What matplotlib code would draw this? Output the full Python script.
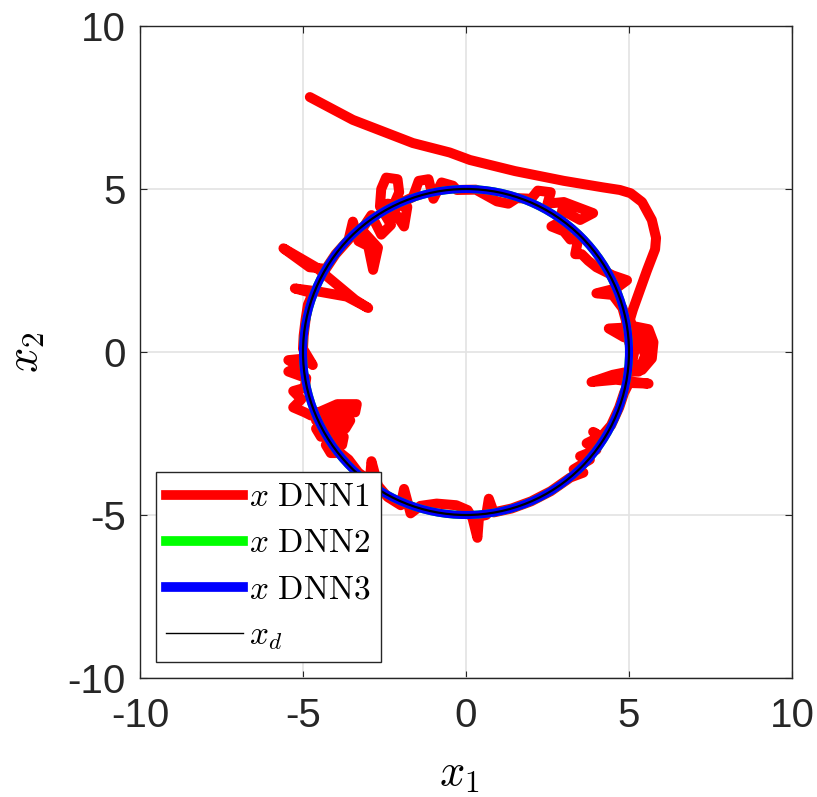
import matplotlib
matplotlib.use("Agg")
import matplotlib.pyplot as plt
from matplotlib.lines import Line2D
from matplotlib.patches import Circle

plt.rcParams['mathtext.fontset'] = 'cm'
plt.rcParams['font.family'] = ['Liberation Sans', 'DejaVu Sans']

# ---------------- data ----------------
xlim = [-10, 10]
ylim = [-10, 10]
ticks = [-10, -5, 0, 5, 10]
tick_labels = ['-10', '-5', '0', '5', '10']

# reference circle (x_d); DNN2 / DNN3 trajectories lie on it
xd_center = (0.0, 0.0)
xd_radius = 5.0

# DNN1 trajectory (x1, x2)
dnn1_pts = [
    # approach from the upper left
    (-4.79, 7.82), (-3.47, 7.12), (-2.43, 6.72), (-1.63, 6.41), (-0.5, 6.12), (0.12, 5.89),
    (1.5, 5.55), (3.0, 5.25), (4.2, 5.05), (4.72, 4.97), (5.05, 4.87), (5.4, 4.6), (5.7, 4.05),
    (5.83, 3.5), (5.8, 3.15), (5.55, 2.5), (5.3, 1.8), (5.12, 1.3), (5.03, 1.0),
    # right blob and spur
    (5.1, 0.8), (5.6, 0.7), (5.75, 0.3), (5.7, -0.2), (5.4, -0.55), (5.1, -0.3), (5.2, 0.2),
    (5.6, 0.1), (5.45, 0.55), (4.9, 0.75), (4.38, 0.72), (4.85, 0.45), (5.3, 0.4), (5.5, -0.1),
    (5.3, -0.6), (5.0, -0.6), (4.5, -0.7), (3.85, -0.92), (4.6, -0.85), (5.0, -0.9),
    (5.6, -0.97), (5.0, -0.95), (4.85, -1.25),
    # lower right side
    (4.7, -1.7), (4.45, -2.25), (4.15, -2.6), (3.9, -2.45), (4.1, -2.6), (3.7, -2.8), (4.0, -3.0),
    (3.5, -3.2), (3.8, -3.3), (3.3, -3.6), (3.6, -3.7), (3.2, -3.85), (2.6, -4.27), (2.0, -4.58),
    (1.4, -4.8), (0.85, -4.92), (0.7, -4.5), (0.62, -5.0), (0.4, -5.05), (0.35, -5.7),
    (0.2, -5.1), (0.05, -4.85),
    # bottom left
    (-0.3, -4.7), (-0.9, -4.65), (-1.4, -4.72), (-1.7, -4.95), (-1.9, -4.2), (-2.0, -4.7),
    (-2.4, -4.45), (-2.7, -4.1), (-2.9, -3.35), (-2.95, -3.95), (-3.3, -3.7), (-3.6, -3.3),
    # big left blob
    (-3.85, -3.1), (-4.15, -3.1), (-4.3, -2.85), (-3.8, -2.85), (-3.75, -2.6), (-4.45, -2.6),
    (-4.6, -2.35), (-3.7, -2.35), (-3.55, -2.1), (-4.6, -2.1), (-4.5, -1.85), (-3.4, -1.85),
    (-3.35, -1.6), (-3.95, -1.6), (-4.75, -1.95),
    # left blobs
    (-4.95, -1.85), (-5.3, -1.7), (-5.05, -1.45), (-5.3, -1.2), (-4.95, -1.1), (-4.9, -0.8),
    (-5.45, -0.6), (-5.1, -0.45), (-5.45, -0.25), (-4.95, -0.2), (-4.7, -0.4), (-5.0, 0.1),
    # up the left side with the two spurs
    (-4.98, 0.5), (-4.92, 1.0), (-4.85, 1.45), (-4.7, 1.8), (-5.25, 1.95), (-4.5, 1.85),
    (-3.66, 1.7), (-3.0, 1.35), (-3.4, 1.6), (-4.0, 2.1), (-4.6, 2.6), (-5.6, 3.18),
    (-4.8, 2.6), (-4.3, 2.55), (-4.0, 3.0), (-3.6, 3.45),
    # upper left blob with loops
    (-3.47, 4.0), (-3.3, 3.4), (-3.0, 3.25), (-2.85, 2.52), (-2.7, 3.2), (-3.2, 3.75),
    (-2.9, 4.2), (-2.6, 3.6), (-2.3, 3.9), (-2.6, 4.4), (-2.2, 4.3), (-1.9, 3.85),
    (-1.8, 4.45), (-2.4, 4.55), (-2.64, 4.46), (-2.6, 5.0), (-2.45, 5.35), (-2.1, 5.3),
    (-2.05, 4.9), (-2.24, 4.46), (-1.95, 4.6), (-1.63, 4.75), (-1.45, 5.25), (-1.15, 5.3),
    (-1.0, 4.7), (-0.75, 5.2), (-0.4, 5.1), (-0.28, 4.97),
    # upper right
    (0.3, 4.98), (0.95, 4.62), (1.3, 4.55), (1.56, 4.72), (2.0, 4.7), (2.2, 4.95), (2.6, 4.9),
    (2.5, 4.55), (3.0, 4.6), (3.9, 4.26), (3.5, 4.05), (2.95, 4.35), (2.9, 4.0), (2.62, 3.85),
    (3.0, 3.7), (3.2, 3.45), (3.45, 3.5), (3.35, 3.0), (3.55, 3.0), (3.75, 2.8), (4.0, 2.6),
    (4.5, 2.35), (4.94, 2.2), (4.6, 1.95), (4.0, 1.8), (4.5, 1.75), (4.8, 1.35), (4.95, 0.8),
    (5.0, 0.3),
]
dnn1_x1 = [p[0] for p in dnn1_pts]
dnn1_x2 = [p[1] for p in dnn1_pts]

labels = [r'$x\ \mathrm{DNN1}$', r'$x\ \mathrm{DNN2}$', r'$x\ \mathrm{DNN3}$', r'$x_d$']
colors = ['#ff0000', '#00ff00', '#0000ff', '#000000']

# ---------------- figure ----------------
fig = plt.figure(figsize=(8.17, 7.97), dpi=100)
ax = fig.add_axes([140 / 817, 119 / 797, 652 / 817, 652 / 797])

ax.plot(dnn1_x1, dnn1_x2, color=colors[0], lw=7.2, solid_capstyle='round',
        solid_joinstyle='round', zorder=2)
ax.add_patch(Circle(xd_center, xd_radius, fill=False, edgecolor=colors[1], lw=5.8, zorder=3))
ax.add_patch(Circle(xd_center, xd_radius, fill=False, edgecolor=colors[2], lw=5.8, zorder=4))
ax.add_patch(Circle(xd_center, xd_radius, fill=False, edgecolor=colors[3], lw=1.6, zorder=5))

ax.set_xlim(xlim)
ax.set_ylim(ylim)
ax.set_xticks(ticks)
ax.set_yticks(ticks)
ax.set_xticklabels(tick_labels)
ax.set_yticklabels(tick_labels)
ax.grid(True, color='#e3e3e3', lw=1.2, zorder=0)
ax.set_axisbelow(True)

for s in ax.spines.values():
    s.set_color('#262626')
    s.set_linewidth(1.0)
ax.tick_params(axis='both', direction='in', length=5, width=0.8, color='#262626',
               labelsize=29, labelcolor='#262626', top=True, right=True)
ax.tick_params(axis='x', pad=14)
ax.tick_params(axis='y', pad=10)

ax.set_xlabel(r'$x_1$', fontsize=32)
ax.set_ylabel(r'$x_2$', fontsize=32)
ax.xaxis.set_label_coords(0.49, -0.117)
ax.yaxis.set_label_coords(-0.143, 0.5)

handles = [Line2D([], [], color=colors[0], lw=7),
           Line2D([], [], color=colors[1], lw=7),
           Line2D([], [], color=colors[2], lw=7),
           Line2D([], [], color=colors[3], lw=1)]
leg = ax.legend(handles, labels, loc='lower left', bbox_to_anchor=(0.0245, 0.0245),
                borderaxespad=0, fontsize=24, fancybox=False, framealpha=1,
                edgecolor='#262626', handlelength=2.3, handletextpad=0.2,
                labelspacing=0.45, borderpad=0.3)
leg.get_frame().set_linewidth(1.0)
leg.set_zorder(10)

fig.savefig('out.png', dpi=100)
